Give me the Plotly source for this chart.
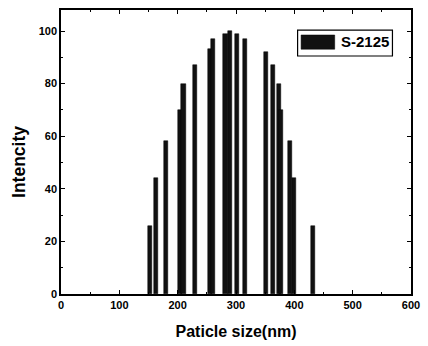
import plotly.graph_objects as go

# Data
particle_size = [153, 163, 180, 204, 210, 230, 255, 260, 282, 289,
                 301, 315, 351, 363, 373, 377, 392, 400, 432]
intensity = [26, 44, 58, 70, 80, 87, 93, 97, 99, 100,
             99, 97, 92, 87, 80, 70, 58, 44, 26]
series_name = "S-2125"
x_ticks = [0, 100, 200, 300, 400, 500, 600]
y_ticks = [0, 20, 40, 60, 80, 100]

FONT = "Arial, Liberation Sans, sans-serif"

fig = go.Figure()
fig.add_trace(go.Bar(
    x=particle_size, y=intensity, width=7, name=series_name,
    marker=dict(color="#111111", line=dict(color="#000000", width=0.5)),
    showlegend=False,
))

axis_common = dict(
    showline=True, linecolor="black", linewidth=1.5, mirror="ticks",
    ticks="inside", ticklen=4, tickwidth=1.2, tickcolor="black",
    showgrid=False, zeroline=False,
    tickfont=dict(family=FONT, size=11, color="black", weight="bold"),
)

fig.update_xaxes(
    range=[0, 600], tickvals=x_ticks,
    minor=dict(ticks="inside", ticklen=2.5, tickwidth=1, tickcolor="black", dtick=50),
    title=dict(text="Paticle size(nm)", font=dict(family=FONT, size=16, color="black", weight="bold"), standoff=16),
    **axis_common,
)
fig.update_yaxes(
    range=[0, 108], tickvals=y_ticks,
    minor=dict(ticks="inside", ticklen=2.5, tickwidth=1, tickcolor="black", dtick=10),
    **axis_common,
)

# Y-axis title placed like the reference (slightly below plot centre)
fig.add_annotation(xref="paper", yref="paper", x=-0.120, y=0.465, xanchor="center", yanchor="middle",
                   text="Intencity", textangle=-90, showarrow=False,
                   font=dict(family=FONT, size=17.5, color="black", weight="bold"))

# Legend drawn as a framed box with a wide swatch
fig.add_shape(type="rect", xref="paper", yref="paper", x0=0.676, x1=0.947, y0=0.838, y1=0.929,
              line=dict(color="black", width=1.2), fillcolor="white")
fig.add_shape(type="rect", xref="paper", yref="paper", x0=0.686, x1=0.782, y0=0.862, y1=0.912,
              line=dict(color="black", width=0.5), fillcolor="#111111")
fig.add_annotation(xref="paper", yref="paper", x=0.793, y=0.888, xanchor="left", yanchor="middle",
                   text=series_name, showarrow=False,
                   font=dict(family=FONT, size=15, color="black", weight="bold"))

fig.update_layout(
    width=428, height=346,
    margin=dict(l=61, r=9, t=8, b=52),
    plot_bgcolor="white", paper_bgcolor="white",
    bargap=0,
)

fig.write_html("out.html")
